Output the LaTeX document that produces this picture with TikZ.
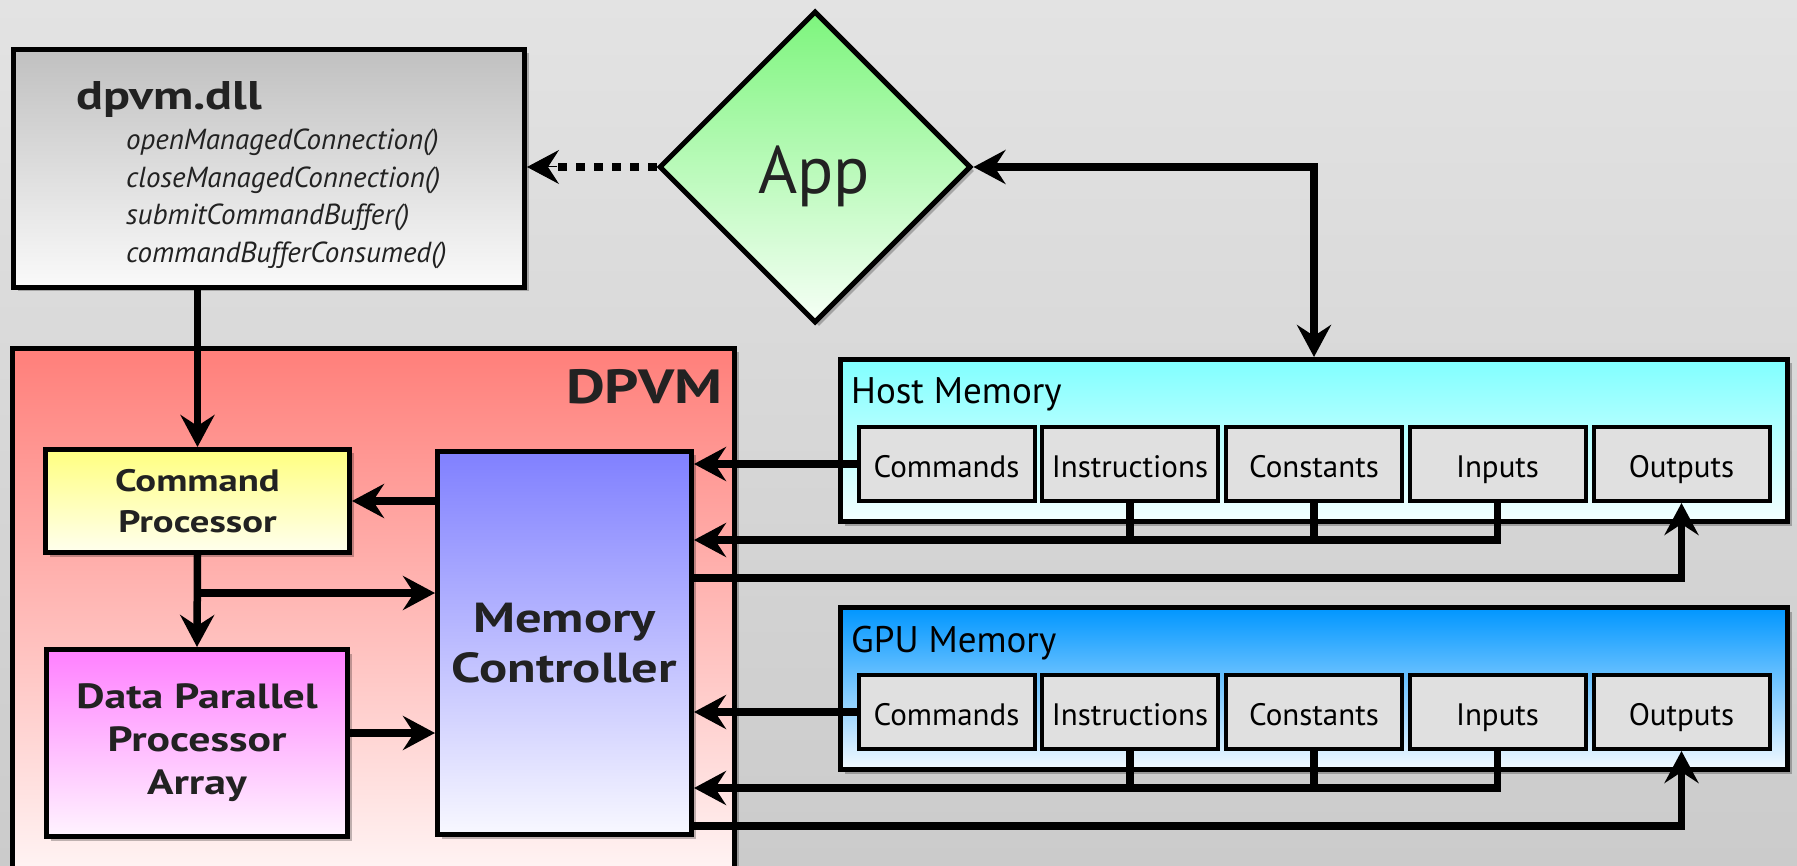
\documentclass[tikz,border=0pt]{standalone}
\usepackage{fontspec}
\setmainfont{PT Sans}
\newfontfamily\widefont[FakeStretch=1.25]{PT Sans}
\usetikzlibrary{arrows.meta,shapes.geometric,shadows}
\definecolor{bgtop}{HTML}{E3E3E3}
\definecolor{bgbot}{HTML}{CBCBCB}
\definecolor{txt}{HTML}{222222}
\definecolor{cellgray}{HTML}{E0E0E0}
\begin{document}
\begin{tikzpicture}[x=1pt,y=-1pt,
  box/.style={draw=black, line width=5pt, rectangle, inner sep=0pt, text=txt},
  cell/.style={draw=black, line width=4pt, rectangle, inner sep=0pt, fill=cellgray,
    minimum width=176pt, minimum height=74pt, text height=27pt, text depth=1pt,
    font=\fontsize{31}{31}\selectfont, text=black},
  shad/.style={drop shadow={shadow xshift=4pt, shadow yshift=-4pt, opacity=0.25, fill=black}},
  conn/.style={draw=black, line width=7.5pt},
  tip/.style={-{Stealth[length=32pt,width=34pt,inset=11pt]}},
  dotconn/.style={draw=black, line width=8pt, dash pattern=on 9pt off 9pt},
  lbl/.style={inner sep=0pt, text=txt},
  meth/.style={lbl, anchor=base west, font=\itshape\fontsize{29}{29}\selectfont},
]
\useasboundingbox (0,0) rectangle (1797,866);
\clip (0,0) rectangle (1797,866);
\shade[top color=bgtop,bottom color=bgbot] (0,0) rectangle (1797,866);

% dpvm.dll box
\node[box, shad, top color={rgb,255:red,192;green,192;blue,192}, bottom color={rgb,255:red,250;green,250;blue,250},
  minimum width=511pt, minimum height=238pt] (dll) at (269,168.5) {};
\node[lbl, anchor=base west, font=\widefont\bfseries\fontsize{40}{40}\selectfont] (dlltitle) at (76,110) {dpvm.dll};
\node[meth] (m1) at (126,150) {openManagedConnection()};
\node[meth] (m2) at (126,187.5) {closeManagedConnection()};
\node[meth] (m3) at (126,225) {submitCommandBuffer()};
\node[meth] (m4) at (126,262.5) {commandBufferConsumed()};

% App diamond
\node[diamond, draw=black, line width=5pt, aspect=1, inner sep=0pt, minimum width=312pt, minimum height=312pt,
  top color={rgb,255:red,125;green,245;blue,125}, bottom color={rgb,255:red,246;green,255;blue,246}, shad] (app) at (815,167) {};
\node[lbl, anchor=base, font=\fontsize{67}{67}\selectfont] (apptxt) at (814,194) {App};

% DPVM box
\node[box, shad, top color={rgb,255:red,255;green,127;blue,122}, bottom color={rgb,255:red,255;green,250;blue,250},
  minimum width=722pt, minimum height=551pt] (dpvm) at (373.5,624) {};
\node[lbl, anchor=base east, font=\widefont\bfseries\fontsize{48}{48}\selectfont] (dpvmtxt) at (723,404) {DPVM};

% Command processor
\node[box, shad, top color={rgb,255:red,255;green,255;blue,128}, bottom color={rgb,255:red,255;green,255;blue,238},
  minimum width=304pt, minimum height=103pt, align=center, font=\widefont\bfseries\fontsize{31}{41}\selectfont] (cp) at (197.5,501) {Command\\Processor};

% Memory controller
\node[box, shad, top color={rgb,255:red,128;green,128;blue,255}, bottom color={rgb,255:red,248;green,248;blue,255},
  minimum width=254pt, minimum height=383pt, align=center, font=\widefont\bfseries\fontsize{42}{50}\selectfont] (mc) at (564.5,643) {Memory\\Controller};

% Data parallel processor array
\node[box, shad, top color={rgb,255:red,255;green,128;blue,255}, bottom color={rgb,255:red,255;green,244;blue,255},
  minimum width=301pt, minimum height=187pt, align=center, font=\widefont\bfseries\fontsize{35}{43}\selectfont] (dppa) at (197,743) {Data Parallel\\Processor\\Array};

% Host memory
\node[box, shad, top color={rgb,255:red,128;green,255;blue,255}, bottom color={rgb,255:red,244;green,255;blue,255},
  minimum width=947pt, minimum height=162pt] (host) at (1314,440.5) {};
\node[lbl, anchor=base west, font=\fontsize{37}{37}\selectfont, text=black] (hosttxt) at (851,404) {Host Memory};
\node[cell] (hcmd) at (946.5,464) {Commands};
\node[cell] (hins) at (1130,464) {Instructions};
\node[cell] (hcon) at (1314,464) {Constants};
\node[cell] (hinp) at (1497.5,464) {Inputs};
\node[cell] (hout) at (1681.5,464) {Outputs};

% GPU memory
\node[box, shad, top color={rgb,255:red,0;green,150;blue,255}, bottom color={rgb,255:red,244;green,250;blue,255},
  minimum width=947pt, minimum height=162pt] (gpu) at (1314,688.5) {};
\node[lbl, anchor=base west, font=\fontsize{37}{37}\selectfont, text=black] (gputxt) at (851,652) {GPU Memory};
\node[cell] (gcmd) at (946.5,712) {Commands};
\node[cell] (gins) at (1130,712) {Instructions};
\node[cell] (gcon) at (1314,712) {Constants};
\node[cell] (ginp) at (1497.5,712) {Inputs};
\node[cell] (gout) at (1681.5,712) {Outputs};

% connectors
\draw[dotconn] (app.west) -- ([xshift=30pt]app.west -| dll.east);
\draw[-{Stealth[length=32pt,width=34pt,inset=11pt]}, line width=1pt, fill=black] ([xshift=30pt]app.west -| dll.east) -- (app.west -| dll.east);
\draw[conn, {Stealth[length=32pt,width=34pt,inset=11pt]}-{Stealth[length=32pt,width=34pt,inset=11pt]}] (app.east) -| (host.north);
\draw[conn, tip] (cp.north |- dll.south) -- (cp.north);
\draw[conn, tip] (mc.west |- cp.east) -- (cp.east);
\draw[conn, tip] (cp.south) -- (dppa.north);
\coordinate (br) at (cp.south |- 0,593);
\draw[conn, tip] (br) -- (br -| mc.west);
\draw[conn, tip] (dppa.east |- 0,733) -- (mc.west |- 0,733);

% host memory connections
\draw[conn, tip] (hcmd.west) -- (mc.east |- hcmd.west);
\draw[conn] (hins.south) -- (hins.south |- 0,540);
\draw[conn] (hcon.south) -- (hcon.south |- 0,540);
\draw[conn, tip] (hinp.south) |- (mc.east |- 0,540);
\draw[conn, tip] (mc.east |- 0,578) -| (hout.south);

% gpu memory connections
\draw[conn, tip] (gcmd.west) -- (mc.east |- gcmd.west);
\draw[conn] (gins.south) -- (gins.south |- 0,788);
\draw[conn] (gcon.south) -- (gcon.south |- 0,788);
\draw[conn, tip] (ginp.south) |- (mc.east |- 0,788);
\draw[conn, tip] (mc.east |- 0,826) -| (gout.south);
\end{tikzpicture}
\end{document}
